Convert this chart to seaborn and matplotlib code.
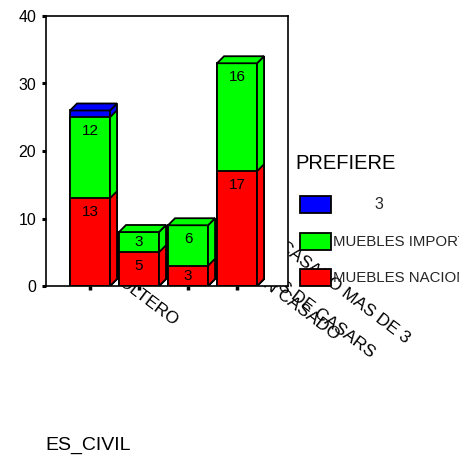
import numpy as np
import pandas as pd
import matplotlib
matplotlib.use("Agg")
import matplotlib.pyplot as plt
import seaborn as sns
from matplotlib.patches import Polygon, Rectangle

# Marital status categories and counts of preferred furniture type
estado_civil = ["SOLTERO", "RECIEN CASADO", "ANTES DE CASARS", "CASADO MAS DE 3"]
muebles_nacionales = [13, 5, 3, 17]
muebles_importados = [12, 3, 6, 16]
prefiere_3 = [1, 0, 0, 0]
series_names = ["3", "MUEBLES IMPORTA", "MUEBLES NACIONA"]
y_ticks = [0, 10, 20, 30, 40]

RED, GREEN, BLUE = "#ff0000", "#00ff00", "#0000ff"

sns.set_theme(style="white")
plt.rcParams["font.family"] = ["Liberation Sans", "DejaVu Sans"]

W, H = 459, 465
fig = plt.figure(figsize=(W / 100, H / 100), dpi=100)
fig.patch.set_facecolor("white")
ax = fig.add_axes([46 / W, 1 - 286 / H, (288 - 46) / W, (286 - 16) / H])

df = pd.DataFrame({
    "ES_CIVIL": estado_civil,
    "nac": muebles_nacionales,
    "imp": muebles_importados,
    "tres": prefiere_3,
})
df["c_nac"] = df["nac"]
df["c_imp"] = df["nac"] + df["imp"]
df["c_tres"] = df["c_imp"] + df["tres"]

bar_w = 0.816
dx, dy = 0.143, 1.04  # depth of the pseudo-3D extrusion (data units)
LW = 1.3

layers = [("c_tres", "tres", BLUE), ("c_imp", "imp", GREEN), ("c_nac", "nac", RED)]
layer_patches = {}
for cum_col, seg_col, color in layers:
    n0 = len(ax.patches)
    sns.barplot(data=df, x="ES_CIVIL", y=cum_col, color=color, saturation=1,
                width=bar_w, edgecolor="black", linewidth=LW, errorbar=None,
                ax=ax, zorder=2)
    new = ax.patches[n0:]
    layer_patches[seg_col] = new
    # side face of each cumulative bar
    for p in new:
        x1 = p.get_x() + p.get_width()
        h = p.get_height()
        side = Polygon([(x1, 0), (x1 + dx, dy), (x1 + dx, h + dy), (x1, h)],
                       closed=True, facecolor=color, edgecolor="black",
                       linewidth=LW, zorder=2)
        ax.add_patch(side)

# top face on the highest non-empty segment of each bar
for i in range(len(estado_civil)):
    top_color = None
    for cum_col, seg_col, color in layers:
        if df[seg_col][i] > 0:
            top_color = color
            break
    p = layer_patches["tres"][i]
    x0 = p.get_x()
    x1 = x0 + p.get_width()
    h = df["c_tres"][i]
    top = Polygon([(x0, h), (x0 + dx, h + dy), (x1 + dx, h + dy), (x1, h)],
                  closed=True, facecolor=top_color, edgecolor="black",
                  linewidth=LW, zorder=3)
    ax.add_patch(top)

# value labels inside the segments
for i in range(len(estado_civil)):
    xc = layer_patches["nac"][i].get_x() + bar_w / 2
    bottom = 0
    for seg_col in ["nac", "imp", "tres"]:
        v = df[seg_col][i]
        topv = bottom + v
        if v >= 2:
            yv = max(topv - 2.1, (bottom + topv) / 2)
            ax.text(xc, yv, f"{v}", ha="center", va="center", fontsize=11,
                    color="black", zorder=4)
        bottom = topv

ax.set_xlim(-0.898, 4.04)
ax.set_ylim(0, 40)
ax.set_yticks(y_ticks)
ax.set_yticklabels([str(t) for t in y_ticks])
ax.set_xlabel("")
ax.set_ylabel("")
ax.tick_params(axis="y", left=True, length=3, width=2.2, direction="out",
               labelsize=11.5, pad=4, colors="black")
ax.tick_params(axis="x", bottom=True, length=3, width=2.5, direction="out",
               labelbottom=False, colors="black")
for s in ax.spines.values():
    s.set_visible(True)
    s.set_color("black")
    s.set_linewidth(1.2)
ax.set_facecolor("white")

# rotated category labels, drawn beneath the plot area
label_ends = [(173, 326), (335, 340), (370, 358), (405, 344)]
for name, (px, py) in zip(estado_civil, label_ends):
    fig.text(px / W, 1 - py / H, name, rotation=-37, rotation_mode="anchor",
             ha="right", va="baseline", fontsize=12.5, color="black", zorder=-1)

fig.text(45 / W, 1 - 450 / H, "ES_CIVIL", ha="left", va="baseline",
         fontsize=14, color="black")

# legend
fig.text(295 / W, 1 - 169 / H, "PREFIERE", ha="left", va="baseline",
         fontsize=14.5, color="black")
legend_colors = [BLUE, GREEN, RED]
legend_y = [196, 233, 269]
for name, c, ty in zip(series_names, legend_colors, legend_y):
    fig.add_artist(Rectangle((300 / W, 1 - (ty + 17) / H), 31 / W, 17 / H,
                             transform=fig.transFigure, facecolor=c,
                             edgecolor="black", linewidth=LW))
    yc = 1 - (ty + 8.5) / H
    if name == "3":
        fig.text(379 / W, yc, name, ha="center", va="center", fontsize=11.5)
    else:
        fig.text(333 / W, yc, name, ha="left", va="center", fontsize=10.8)

fig.savefig("out.png", dpi=100, facecolor="white")
